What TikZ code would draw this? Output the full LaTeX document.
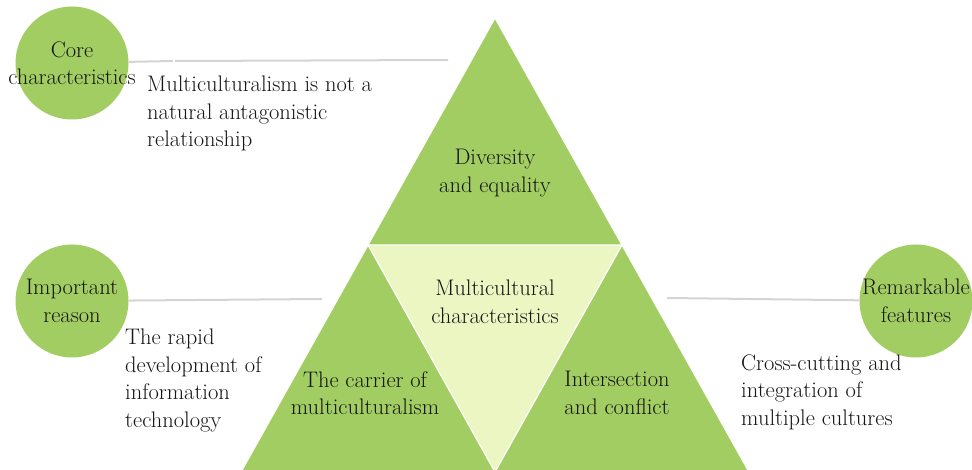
\documentclass[tikz,border=0pt]{standalone}
\definecolor{tgreen}{HTML}{A2CD62}
\definecolor{tlight}{HTML}{EBF6C3}
\definecolor{lgray}{HTML}{D4D4D4}
\definecolor{txt}{HTML}{151515}
\begin{document}
\begin{tikzpicture}[x=1pt,y=-1pt,
  lbl/.style={font=\rmfamily\fontsize{22.5}{27.5}\selectfont, text=txt, align=center, inner sep=0pt},
  note/.style={font=\rmfamily\fontsize{22.5}{27.5}\selectfont, text=txt, align=left, inner sep=0pt, anchor=base west},
  disc/.style={circle, fill=tgreen, minimum size=113pt, inner sep=0pt},
  tri/.style={fill=tgreen, draw=white, line width=1.2pt, line join=round},
  link/.style={draw=lgray, line width=2pt}]
\useasboundingbox (0,0) rectangle (972,470);
% triangles
\coordinate (tA) at (495,18);
\coordinate (tL) at (368,245);
\coordinate (tR) at (622,245);
\coordinate (bM) at (495,472);
\coordinate (bL) at (241,472);
\coordinate (bR) at (749,472);
\fill[tlight] (tL) -- (tR) -- (bM) -- cycle;
\draw[tri] (tA) -- (tL) -- (tR) -- cycle;
\draw[tri] (tL) -- (bL) -- (bM) -- cycle;
\draw[tri] (tR) -- (bM) -- (bR) -- cycle;
% circles
\node[disc] (core) at (72,63) {};
\node[disc] (imp) at (72,301) {};
\node[disc] (rem) at (916,301) {};
% connectors
\coordinate (c1) at (173,61);
\coordinate (c2) at (175,61);
\coordinate (c3) at (448,60);
\coordinate (l1) at (322,299);
\coordinate (r1) at (667,298);
\draw[link] (core) -- (c1);
\draw[link] (c2) -- (c3);
\draw[link] (imp) -- (l1);
\draw[link] (r1) -- (rem);
% circle labels
\node[lbl] (coret) at (core) {Core\\characteristics};
\node[lbl] (impt) at (imp) {Important\\reason};
\node[lbl] (remt) at (rem) {Remarkable\\features};
% notes (base anchor = last line baseline)
\node[note] (n1) at (147,147) {Multiculturalism is not a\\natural antagonistic\\relationship};
\node[note] (n2) at (125,427) {The rapid\\development of\\information\\technology};
\node[note] (n3) at (741,425) {Cross-cutting and\\integration of\\multiple cultures};
% triangle labels
\node[lbl] (div) at (495,173) {Diversity\\and equality};
\node[lbl] (mul) at (495,302) {Multicultural\\characteristics};
\node[lbl] (car) at (365,393) {The carrier of\\multiculturalism};
\node[lbl] (int) at (617,393) {Intersection\\and conflict};
\end{tikzpicture}
\end{document}
